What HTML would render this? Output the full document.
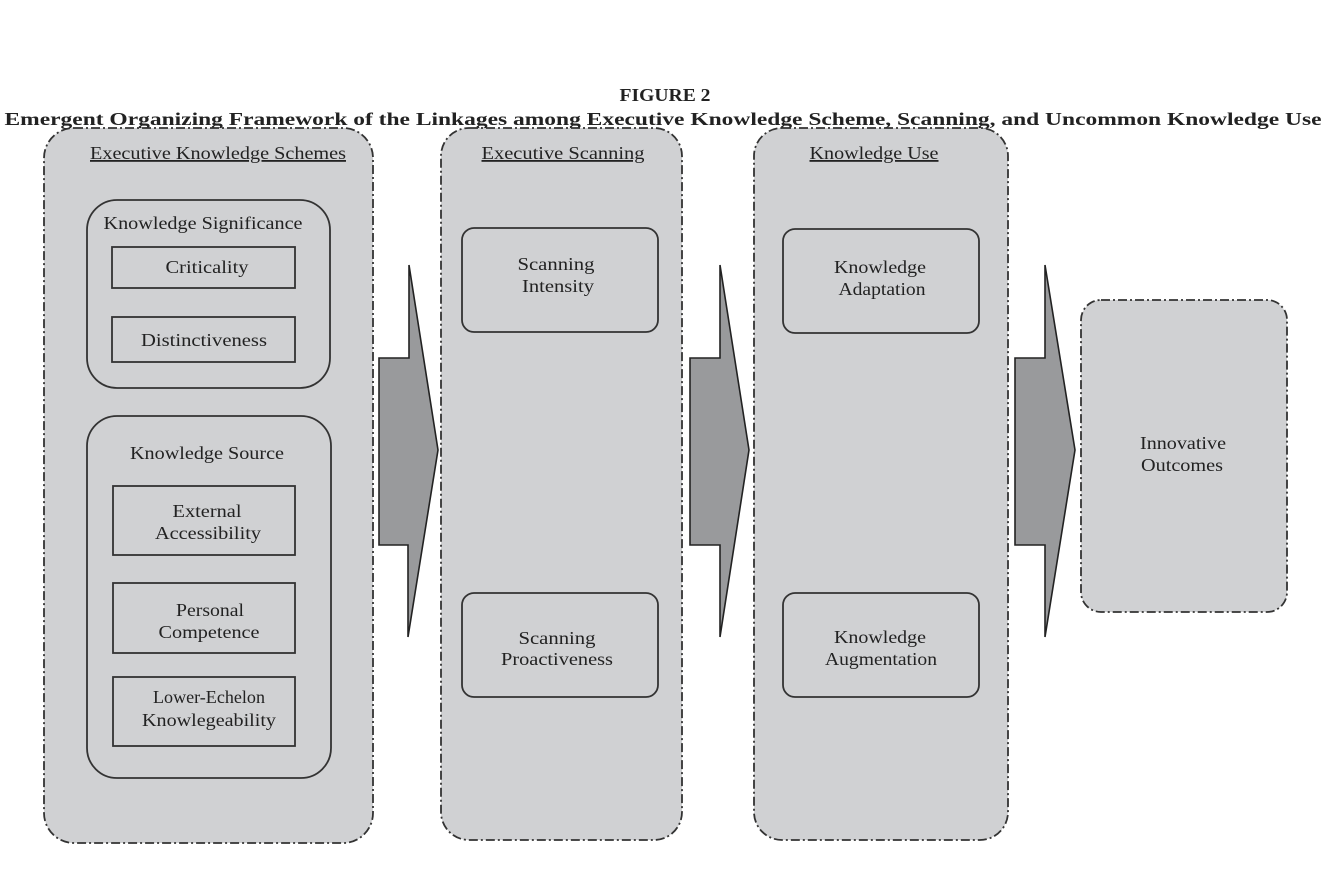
<!DOCTYPE html>
<html><head><meta charset="utf-8"><style>
html,body{margin:0;padding:0;background:#fff;}
svg text{font-family:"Liberation Serif","DejaVu Serif",serif;fill:#222;}
</style></head><body>
<svg width="1327" height="878" viewBox="0 0 1327 878" xmlns="http://www.w3.org/2000/svg">
<text x="665" y="101" text-anchor="middle" font-size="18" font-weight="bold" textLength="91" lengthAdjust="spacingAndGlyphs">FIGURE 2</text>
<text x="663" y="125" text-anchor="middle" font-size="18" font-weight="bold" textLength="1317" lengthAdjust="spacingAndGlyphs">Emergent Organizing Framework of the Linkages among Executive Knowledge Scheme, Scanning, and Uncommon Knowledge Use</text>
<g fill="#d0d1d3" stroke="#333" stroke-width="1.8" stroke-dasharray="9,3,2,3">
<rect x="44" y="128" width="329" height="715" rx="30"/>
<rect x="441" y="128" width="241" height="712" rx="28"/>
<rect x="754" y="128" width="254" height="712" rx="28"/>
<rect x="1081" y="300" width="206" height="312" rx="20"/>
</g>
<g fill="#999a9c" stroke="#222" stroke-width="1.6">
<polygon points="379,358 409,358 409,265 438,450 408,637 408,545 379,545"/>
<polygon points="690,358 720,358 720,265 749,450 720,637 720,545 690,545"/>
<polygon points="1015,358 1045,358 1045,265 1075,450 1045,637 1045,545 1015,545"/>
</g>
<g fill="none" stroke="#333" stroke-width="1.8">
<rect x="87" y="200" width="243" height="188" rx="30"/>
<rect x="87" y="416" width="244" height="362" rx="30"/>
<rect x="112" y="247" width="183" height="41"/>
<rect x="112" y="317" width="183" height="45"/>
<rect x="113" y="486" width="182" height="69"/>
<rect x="113" y="583" width="182" height="70"/>
<rect x="113" y="677" width="182" height="69"/>
<rect x="462" y="228" width="196" height="104" rx="12"/>
<rect x="462" y="593" width="196" height="104" rx="12"/>
<rect x="783" y="229" width="196" height="104" rx="12"/>
<rect x="783" y="593" width="196" height="104" rx="12"/>
</g>
<g font-size="18" text-anchor="middle">
<text x="218" y="159" text-decoration="underline" textLength="256" lengthAdjust="spacingAndGlyphs">Executive Knowledge Schemes</text>
<text x="563" y="159" text-decoration="underline" textLength="163" lengthAdjust="spacingAndGlyphs">Executive Scanning</text>
<text x="874" y="159" text-decoration="underline" textLength="129" lengthAdjust="spacingAndGlyphs">Knowledge Use</text>
<text x="203" y="229" textLength="199" lengthAdjust="spacingAndGlyphs">Knowledge Significance</text>
<text x="207" y="273" textLength="83" lengthAdjust="spacingAndGlyphs">Criticality</text>
<text x="204" y="346" textLength="126" lengthAdjust="spacingAndGlyphs">Distinctiveness</text>
<text x="207" y="459" textLength="154" lengthAdjust="spacingAndGlyphs">Knowledge Source</text>
<text x="207" y="517" textLength="69" lengthAdjust="spacingAndGlyphs">External</text>
<text x="208" y="539" textLength="106" lengthAdjust="spacingAndGlyphs">Accessibility</text>
<text x="210" y="616" textLength="68" lengthAdjust="spacingAndGlyphs">Personal</text>
<text x="209" y="638" textLength="101" lengthAdjust="spacingAndGlyphs">Competence</text>
<text x="209" y="703" textLength="112" lengthAdjust="spacingAndGlyphs">Lower-Echelon</text>
<text x="209" y="726" textLength="134" lengthAdjust="spacingAndGlyphs">Knowlegeability</text>
<text x="556" y="270" textLength="77" lengthAdjust="spacingAndGlyphs">Scanning</text>
<text x="558" y="292" textLength="72" lengthAdjust="spacingAndGlyphs">Intensity</text>
<text x="557" y="644" textLength="77" lengthAdjust="spacingAndGlyphs">Scanning</text>
<text x="557" y="665" textLength="112" lengthAdjust="spacingAndGlyphs">Proactiveness</text>
<text x="880" y="273" textLength="92" lengthAdjust="spacingAndGlyphs">Knowledge</text>
<text x="882" y="295" textLength="87" lengthAdjust="spacingAndGlyphs">Adaptation</text>
<text x="880" y="643" textLength="92" lengthAdjust="spacingAndGlyphs">Knowledge</text>
<text x="881" y="665" textLength="112" lengthAdjust="spacingAndGlyphs">Augmentation</text>
<text x="1183" y="449" textLength="86" lengthAdjust="spacingAndGlyphs">Innovative</text>
<text x="1182" y="471" textLength="82" lengthAdjust="spacingAndGlyphs">Outcomes</text>
</g>
</svg>
</body></html>
